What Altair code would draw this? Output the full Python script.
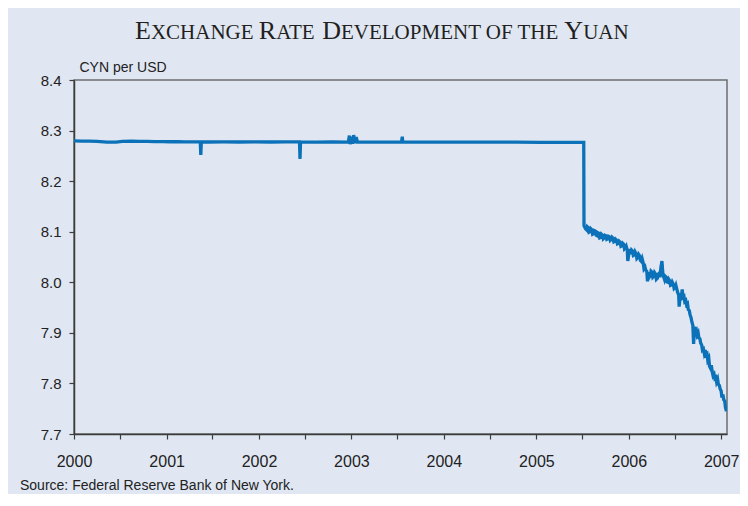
import altair as alt
import pandas as pd

# ---- data ----
flat_dates = [
    "2000-01-01", "2000-02-01", "2000-03-01", "2000-04-01", "2000-05-10", "2000-06-15",
    "2000-07-10", "2000-08-15", "2000-09-15", "2000-10-15", "2000-11-15", "2000-12-15",
    "2001-01-15", "2001-02-15", "2001-03-15", "2001-04-15", "2001-05-14", "2001-05-16",
    "2001-05-18", "2001-06-15", "2001-08-15", "2001-10-15", "2001-12-15", "2002-02-15",
    "2002-04-15", "2002-06-10", "2002-06-12", "2002-06-14", "2002-08-15", "2002-10-15",
    "2002-12-20", "2002-12-24", "2002-12-27", "2002-12-31", "2003-01-06", "2003-01-10",
    "2003-01-15", "2003-01-20", "2003-01-25", "2003-04-15", "2003-07-18", "2003-07-21",
    "2003-07-23", "2003-10-15", "2004-01-15", "2004-04-15", "2004-07-15", "2004-10-15",
    "2005-01-15", "2005-04-15", "2005-07-07",
]
flat_values = [
    8.2795, 8.2790, 8.2792, 8.2788, 8.2772, 8.2770,
    8.2785, 8.2790, 8.2788, 8.2786, 8.2782, 8.2780,
    8.2779, 8.2781, 8.2778, 8.2776, 8.2777, 8.2520,
    8.2775, 8.2774, 8.2776, 8.2774, 8.2775, 8.2774,
    8.2775, 8.2775, 8.2440, 8.2774, 8.2773, 8.2774,
    8.2772, 8.2900, 8.2730, 8.2880, 8.2740, 8.2910,
    8.2750, 8.2870, 8.2772, 8.2773, 8.2772, 8.2880,
    8.2772, 8.2772, 8.2771, 8.2771, 8.2770, 8.2770,
    8.2768, 8.2766, 8.2765,
]
float_dates = [
    "2005-07-08", "2005-07-14", "2005-07-18", "2005-07-21", "2005-07-25", "2005-07-28",
    "2005-08-01", "2005-08-04", "2005-08-08", "2005-08-11", "2005-08-15", "2005-08-18",
    "2005-08-22", "2005-08-25", "2005-08-29", "2005-09-01", "2005-09-05", "2005-09-08",
    "2005-09-12", "2005-09-15", "2005-09-19", "2005-09-22", "2005-09-26", "2005-09-29",
    "2005-10-03", "2005-10-06", "2005-10-10", "2005-10-13", "2005-10-17", "2005-10-20",
    "2005-10-24", "2005-10-27", "2005-10-31", "2005-11-03", "2005-11-07", "2005-11-10",
    "2005-11-14", "2005-11-17", "2005-11-21", "2005-11-24", "2005-11-28", "2005-12-01",
    "2005-12-05", "2005-12-08", "2005-12-12", "2005-12-15", "2005-12-19", "2005-12-22",
    "2005-12-26", "2005-12-28", "2006-01-04", "2006-01-06", "2006-01-09", "2006-01-12",
    "2006-01-16", "2006-01-19", "2006-01-23", "2006-01-26", "2006-01-30", "2006-02-02",
    "2006-02-06", "2006-02-09", "2006-02-13", "2006-02-16", "2006-02-20", "2006-02-23",
    "2006-02-27", "2006-03-02", "2006-03-06", "2006-03-09", "2006-03-13", "2006-03-16",
    "2006-03-20", "2006-03-23", "2006-03-27", "2006-03-30", "2006-04-03", "2006-04-06",
    "2006-04-10", "2006-04-13", "2006-04-17", "2006-04-20", "2006-04-24", "2006-04-27",
    "2006-05-01", "2006-05-04", "2006-05-08", "2006-05-12", "2006-05-15", "2006-05-18",
    "2006-05-22", "2006-05-25", "2006-05-29", "2006-06-01", "2006-06-05", "2006-06-08",
    "2006-06-12", "2006-06-15", "2006-06-19", "2006-06-22", "2006-06-26", "2006-06-29",
    "2006-07-03", "2006-07-06", "2006-07-10", "2006-07-13", "2006-07-17", "2006-07-19",
    "2006-07-24", "2006-07-27", "2006-07-31", "2006-08-03", "2006-08-07", "2006-08-10",
    "2006-08-14", "2006-08-17", "2006-08-21", "2006-08-24", "2006-08-28", "2006-08-31",
    "2006-09-04", "2006-09-07", "2006-09-11", "2006-09-14", "2006-09-18", "2006-09-21",
    "2006-09-25", "2006-09-28", "2006-10-02", "2006-10-05", "2006-10-09", "2006-10-12",
    "2006-10-16", "2006-10-19", "2006-10-23", "2006-10-26", "2006-10-30", "2006-11-02",
    "2006-11-06", "2006-11-09", "2006-11-13", "2006-11-16", "2006-11-20", "2006-11-23",
    "2006-11-27", "2006-11-30", "2006-12-04", "2006-12-07", "2006-12-11", "2006-12-14",
    "2006-12-18", "2006-12-21", "2006-12-25", "2006-12-28", "2007-01-01", "2007-01-04",
    "2007-01-08", "2007-01-11", "2007-01-15", "2007-01-18", "2007-01-22",
]
float_values = [
    8.112, 8.106, 8.104, 8.110, 8.108, 8.099,
    8.100, 8.106, 8.104, 8.095, 8.096, 8.102,
    8.101, 8.093, 8.092, 8.098, 8.097, 8.088,
    8.089, 8.095, 8.093, 8.086, 8.088, 8.093,
    8.092, 8.085, 8.086, 8.091, 8.090, 8.083,
    8.085, 8.089, 8.087, 8.080, 8.081, 8.085,
    8.083, 8.076, 8.077, 8.081, 8.079, 8.071,
    8.072, 8.077, 8.075, 8.066, 8.068, 8.071,
    8.064, 8.042, 8.066, 8.058, 8.058, 8.064,
    8.062, 8.053, 8.054, 8.060, 8.056, 8.047,
    8.049, 8.055, 8.052, 8.043, 8.041, 8.046,
    8.038, 8.027, 8.030, 8.024, 8.022, 8.002,
    8.020, 8.010, 8.013, 8.022, 8.020, 8.010,
    8.012, 8.019, 8.016, 8.006, 8.008, 8.016,
    8.018, 8.010, 8.030, 8.042, 8.020, 8.012,
    8.006, 8.012, 8.010, 8.001, 8.000, 8.006,
    8.003, 7.994, 7.995, 8.000, 7.996, 7.988,
    7.990, 7.994, 7.986, 7.980, 7.975, 7.952,
    7.978, 7.968, 7.986, 7.970, 7.972, 7.962,
    7.964, 7.956, 7.958, 7.946, 7.944, 7.936,
    7.930, 7.922, 7.915, 7.878, 7.912, 7.902,
    7.905, 7.896, 7.900, 7.890, 7.888, 7.880,
    7.876, 7.866, 7.868, 7.860, 7.866, 7.856,
    7.858, 7.846, 7.850, 7.834, 7.830, 7.836,
    7.822, 7.815, 7.818, 7.810, 7.812, 7.803,
    7.808, 7.798, 7.796, 7.789, 7.785, 7.772,
    7.778, 7.768, 7.765, 7.752, 7.745,
]
y_ticks = [7.7, 7.8, 7.9, 8.0, 8.1, 8.2, 8.3, 8.4]
years = [2000, 2001, 2002, 2003, 2004, 2005, 2006, 2007]

title_parts = [("E", "L"), ("XCHANGE ", "S"), ("R", "L"), ("ATE ", "S"),
               ("D", "L"), ("EVELOPMENT OF THE ", "S"), ("Y", "L"), ("UAN", "S")]
source_text = "Source: Federal Reserve Bank of New York."
y_title = "CYN per USD"

# ---- build ----
df = pd.DataFrame({"date": flat_dates + float_dates, "rate": flat_values + float_values})

BG = "#e0e7f2"
LINE = "#0b72b9"
W, H = 653, 354

tick_vals = []
for yv in years:
    tick_vals.append(alt.DateTime(year=yv, month=1, date=1, utc=True))
    if yv < 2007:
        tick_vals.append(alt.DateTime(year=yv, month=7, date=1, utc=True))

line = alt.Chart(df).mark_line(color=LINE, strokeWidth=3.3, clip=True).encode(
    x=alt.X("date:T",
            scale=alt.Scale(type="utc",
                            domain=[alt.DateTime(year=2000, month=1, date=1, utc=True),
                                    alt.DateTime(year=2007, month=1, date=24, utc=True)]),
            axis=alt.Axis(values=tick_vals, title=None, grid=False,
                          labelExpr="utcFormat(datum.value, '%m') == '01' ? utcFormat(datum.value, '%Y') : ''",
                          labelOverlap=False, labelFlush=False,
                          tickSize=5, labelPadding=14, labelFontSize=16)),
    y=alt.Y("rate:Q",
            scale=alt.Scale(domain=[7.7, 8.4], nice=False, zero=False),
            axis=alt.Axis(values=y_ticks, format=".1f", grid=False, title=y_title,
                          titleAngle=0, titleAlign="left", titleBaseline="alphabetic",
                          titleX=5, titleY=-9, titleFontSize=14, titleFontWeight="normal",
                          titleFont="Liberation Sans", titleColor="#222222",
                          tickSize=5, labelPadding=8, labelFontSize=15)),
)

# small-caps title made of pieces (Times New Roman metrics)
tnr = {"E": 611, "X": 722, "C": 667, "H": 722, "A": 722, "N": 722, "G": 722, " ": 250,
       "R": 667, "T": 611, "D": 722, "V": 722, "L": 611, "O": 722, "P": 556, "M": 889,
       "F": 556, "Y": 722, "U": 722}
sizes = {"L": 26, "S": 21}
one = pd.DataFrame({"k": [0]})
layers = [line]
xpos = 61.0
for txt, s in title_parts:
    fs = sizes[s]
    layers.append(alt.Chart(one).mark_text(text=txt, x=xpos, y=-41, align="left",
                                           baseline="alphabetic", font="Liberation Serif",
                                           fontSize=fs, color="#231f20"))
    xpos += sum(tnr[c] for c in txt) / 1000 * fs

layers.append(alt.Chart(one).mark_text(text=source_text, x=-54, y=410, align="left",
                                       baseline="alphabetic", font="Liberation Sans",
                                       fontSize=14, color="#222222"))

chart = alt.layer(*layers).properties(
    width=W, height=H,
    background=BG,
    padding={"left": 66, "top": 72, "right": 13, "bottom": 60},
    autosize=alt.AutoSizeParams(type="none"),
).configure_view(
    fill="white", stroke="#6e6e6e", strokeWidth=1.5
).configure_axis(
    labelFont="Liberation Sans", labelColor="#222222", domainColor="#3c3c3c",
    domainWidth=1.5, tickColor="#3c3c3c", tickWidth=1.2,
)

chart.save("out.html", embed_options={"renderer": "svg", "actions": False})
